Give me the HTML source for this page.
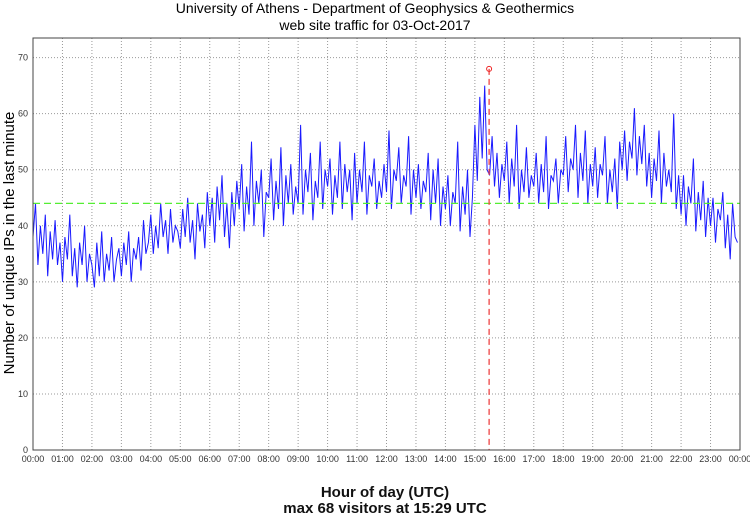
<!DOCTYPE html>
<html><head><meta charset="utf-8"><style>
body{margin:0;background:#fff;}
svg text{font-family:"Liberation Sans",sans-serif;}
</style></head><body>
<svg id="chart" width="750" height="515" viewBox="0 0 750 515" xmlns="http://www.w3.org/2000/svg">
<text x="375" y="13" text-anchor="middle" font-size="14">University of Athens - Department of Geophysics &amp; Geothermics</text>
<text x="375" y="30" text-anchor="middle" font-size="14">web site traffic for 03-Oct-2017</text>
<text transform="translate(14,243) rotate(-90)" text-anchor="middle" font-size="15">Number of unique IPs in the last minute</text>
<text x="385" y="497" text-anchor="middle" font-size="15" font-weight="bold" fill="#111">Hour of day (UTC)</text>
<text x="385" y="513" text-anchor="middle" font-size="15" font-weight="bold" fill="#111">max 68 visitors at 15:29 UTC</text>
<g id="grid"></g><g id="marks"></g>
<rect x="33" y="38" width="707" height="412" fill="none" stroke="#444" stroke-width="1"/>
</svg>
<script>
const hourLabels=["00:00","01:00","02:00","03:00","04:00","05:00","06:00","07:00","08:00","09:00","10:00","11:00","12:00","13:00","14:00","15:00","16:00","17:00","18:00","19:00","20:00","21:00","22:00","23:00","00:00"];
const yTicks=[0,10,20,30,40,50,60,70];
const meanValue=44;
const peakMinute=929; const peakValue=68;
const visitors=[
38,44,33,40,35,42,31,39,34,41,33,37,
30,38,34,42,31,36,29,37,33,40,30,35,
33,29,37,31,39,30,35,32,38,30,34,36,
31,37,33,39,30,36,34,38,32,41,35,37,
42,35,40,36,44,38,41,35,43,37,40,39,
36,43,38,45,37,41,34,44,39,42,36,46,
40,45,37,47,41,49,38,44,36,46,40,48,
43,51,39,47,42,55,40,48,44,50,38,46,
45,52,41,48,43,54,40,49,44,51,42,47,
44,58,42,50,46,53,41,48,45,55,43,50,
47,52,42,49,45,55,43,51,46,50,41,53,
44,50,46,55,42,49,47,52,43,48,45,51,
46,57,43,50,48,54,44,49,47,56,42,50,
45,51,43,48,46,53,41,50,44,52,40,47,
43,49,40,46,44,55,39,47,42,50,38,45,
58,48,63,52,65,50,49,56,47,53,45,51,
48,55,44,52,47,58,43,50,46,54,45,49,
47,53,44,51,46,56,43,49,48,52,44,50,
49,56,46,52,50,58,45,53,48,57,44,51,
47,54,45,51,49,56,44,50,46,52,43,55,
50,57,48,55,52,61,49,56,51,58,47,53,
45,52,48,57,44,53,47,50,46,60,43,49,
42,49,40,47,44,52,39,46,41,48,38,45,
40,45,37,43,41,46,36,42,34,44,38,37];
const X0=33,X1=740,Y0=450,YMAX=73.5,PT=38;
const xs=m=>X0+m/1440*(X1-X0);
const ys=v=>Y0-v/YMAX*(Y0-PT);
const NS="http://www.w3.org/2000/svg";
function mk(t,a,p){const e=document.createElementNS(NS,t);for(const k in a)e.setAttribute(k,a[k]);p.appendChild(e);return e;}
const grid=document.getElementById('grid'),marks=document.getElementById('marks');
hourLabels.forEach((l,i)=>{const x=xs(i*60);
 if(i>0&&i<24){const g=mk('line',{x1:x,x2:x,y1:PT,y2:Y0,stroke:'#999','stroke-dasharray':'1,2'},grid);
 
 }
 const t=mk('text',{x:x,y:462,'text-anchor':'middle','font-size':'9',fill:'#333'},grid);t.textContent=l;
 
 
});
yTicks.forEach(v=>{const y=ys(v);
 if(v>0){const g=mk('line',{x1:X0,x2:X1,y1:y,y2:y,stroke:'#999','stroke-dasharray':'1,2'},grid);
 
 }
 const t=mk('text',{x:28,y:y+3,'text-anchor':'end','font-size':'9',fill:'#333'},grid);t.textContent=v;
 
 
});
const step=1440/visitors.length;
const pts=visitors.map((v,i)=>xs(i*step).toFixed(1)+','+ys(v).toFixed(1)).join(' ');
const line=mk('polyline',{points:pts,fill:'none',stroke:'#1a1aff','stroke-width':'1'},marks);


const mean=mk('line',{x1:X0,x2:X1,y1:ys(meanValue),y2:ys(meanValue),stroke:'#55ee33','stroke-dasharray':'7,4','stroke-width':'1.3'},marks);


const pl=mk('line',{x1:xs(peakMinute),x2:xs(peakMinute),y1:ys(peakValue),y2:Y0,stroke:'#ee4444','stroke-dasharray':'6,4','stroke-width':'1.3'},marks);


const pc=mk('circle',{cx:xs(peakMinute),cy:ys(peakValue),r:2.5,fill:'none',stroke:'#ee2222','stroke-width':'1'},marks);


</script>
</body></html>
